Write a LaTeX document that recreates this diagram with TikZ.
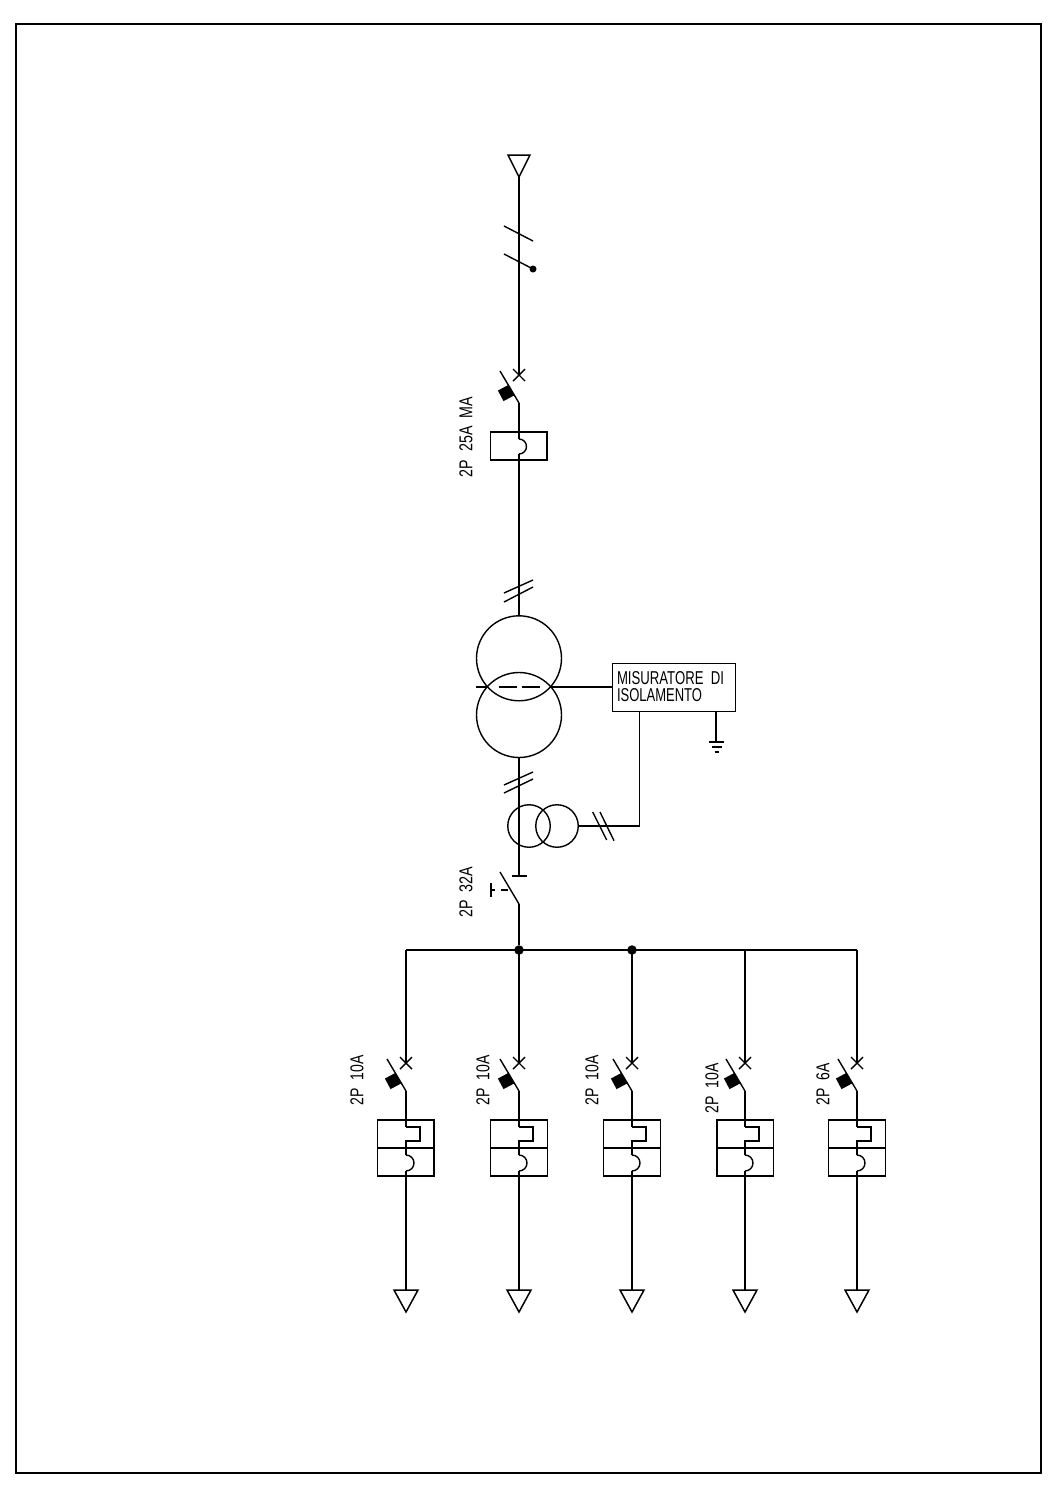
\documentclass[tikz,border=0pt]{standalone}
\usepackage{fontspec}
\usepackage{graphicx}
\setmainfont{Liberation Sans}
\newcommand{\cadtxt}[2]{\resizebox{#1pt}{13pt}{#2}}
\tikzset{
  thk/.style={line width=2.4pt,line cap=butt},
  thn/.style={line width=1.4pt,line cap=butt},
  lbl/.style={inner sep=0pt,outer sep=0pt,anchor=center},
  solidsq/.style={fill=black,draw=none,minimum size=12pt,inner sep=0pt,rotate=28},
  dotnode/.style={circle,fill=black,draw=none,minimum size=#1,inner sep=0pt},
}
\newcommand{\breaker}[1]{%
  \coordinate (#1x) at (0,0);
  \coordinate (#1bt) at (-19,-4);
  \coordinate (#1bb) at (0,28);
  \draw[thn] (-6,-6) -- (6,6);
  \draw[thn] (-6,6) -- (6,-6);
  \draw[thn] (#1bt) -- (#1bb);
  \node[solidsq] (#1sq) at (-13,18) {};
}
\begin{document}
\begin{tikzpicture}[x=1pt,y=-1pt]
\useasboundingbox (0,0) rectangle (1058,1497);
\fill[white] (0,0) rectangle (1058,1497);
\draw[thn] (16,24) rectangle (1041,1473);

% incoming line
\coordinate (tri) at (519,177);
\draw[line width=1.5pt,line join=miter] (508,155) -- (530,155) -- (tri) -- cycle;
\begin{scope}[shift={(519,375)}]\breaker{m}\end{scope}
\draw[thk] (tri) -- (mx);
\draw[thn] (504,226) -- (533,241);
\draw[thn] (504,254) -- (533,269);
\node[dotnode=7pt] (nd) at (533,269) {};

% residual current box
\draw[thn] (490.5,432) rectangle (547,460);
\draw[thk] (mbb) -- (519,439);
\draw[thn] (519,439) arc (-90:90:7.5);
\draw[thk] (519,454) -- (519,616);
\draw[thn] (504,593) -- (533,580);
\draw[thn] (504,602) -- (533,587);

% transformer
\node[circle,draw,line width=1.4pt,minimum size=85pt,inner sep=0pt] (t1) at (519,658.3) {};
\node[circle,draw,line width=1.4pt,minimum size=85pt,inner sep=0pt] (t2) at (519,715) {};
\node[draw,line width=1.4pt,minimum width=123pt,minimum height=48.5pt,inner sep=0pt,anchor=north west] (mi) at (611.5,662.5) {};
\node[lbl,anchor=west] (ml1) at (617,678) {\cadtxt{107}{MISURATORE\ \ DI}};
\node[lbl,anchor=west] (ml2) at (617,695) {\cadtxt{85}{ISOLAMENTO}};
\coordinate (mi1) at (611.5,686.7);
\draw[thk] (476,686.7) -- (488,686.7);
\draw[thk] (499,686.7) -- (517,686.7);
\draw[thk] (522,686.7) -- (540,686.7);
\draw[thk] (550,686.7) -- (mi1);
% earth
\coordinate (mi2) at (716,711);
\coordinate (ea) at (716,742);
\draw[thk] (mi2) -- (ea);
\draw[thk] (709,742) -- (724,742);
\draw[line width=1.1pt] (711.5,747) -- (721.5,747);
\draw[line width=1.1pt] (714.5,752) -- (718.5,752);

% current transformer
\node[circle,draw,line width=1.4pt,minimum size=42.5pt,inner sep=0pt] (c1) at (529,826) {};
\node[circle,draw,line width=1.4pt,minimum size=42.5pt,inner sep=0pt] (c2) at (557,826) {};
\coordinate (mi3) at (639.5,711);
\draw[thn] (mi3) |- (c2.east);
\draw[thn] (592.7,812) -- (606.7,840);
\draw[thn] (600,812) -- (614,840.7);
\draw[thk] (519,757) -- (519,876);
\draw[thn] (504,785) -- (533,772);
\draw[thn] (504,793) -- (533,779);

% main switch
\draw[thk] (512,876) -- (527,876);
\coordinate (swb) at (519,904);
\draw[thn] (500,872) -- (swb);
\draw[thn] (491,883) -- (491,897);
\draw[thn] (491,890) -- (495,890);
\draw[thn] (501,890) -- (508,890);

% bus
\node[dotnode=9.5pt] (j1) at (519,950) {};
\node[dotnode=9.5pt] (j2) at (632,950) {};
\draw[thk] (swb) -- (j1);
\draw[thn] (406,950) -- (857,950);

% branches
\foreach \n/\bx/\w in {a/406/2.4pt,b/519/2.4pt,c/632/1.4pt,d/745/1.4pt,e/857/2.4pt}{
  \begin{scope}[shift={(\bx,1063)}]\breaker{\n}\end{scope}
  \draw[line width=\w] (\bx,950) -- (\n x);
  \draw[thn] (\bx-28.5,1120) rectangle (\bx+28.5,1176);
  \draw[thn] (\bx-28.5,1148) -- (\bx+28.5,1148);
  \draw[line width=\w] (\n bb) -- (\bx,1127);
  \draw[thk,line join=miter] (\bx,1127) -- (\bx+14,1127) -- (\bx+14,1141) -- (\bx,1141) -- (\bx,1155);
  \draw[thn] (\bx,1155) arc (-90:90:8);
  \draw[line width=\w] (\bx,1171) -- (\bx,1290);
  \draw[line width=1.5pt] (\bx-12,1290) -- (\bx+12,1290) -- (\bx,1312) -- cycle;
}
\draw[thk] (434,1120) -- (434,1176);
\draw[thk] (717,1120) -- (717,1176);

% labels
\node[lbl,rotate=90] (l0) at (466,437) {\cadtxt{80}{2P\ \ 25A\ \ MA}};
\node[lbl,rotate=90] (l1) at (466,892) {\cadtxt{51}{2P\ \ 32A}};
\node[lbl,rotate=90] (la) at (357,1080) {\cadtxt{50}{2P\ \ 10A}};
\node[lbl,rotate=90] (lb) at (483,1080) {\cadtxt{50}{2P\ \ 10A}};
\node[lbl,rotate=90] (lc) at (592,1080) {\cadtxt{50}{2P\ \ 10A}};
\node[lbl,rotate=90] (ld) at (712,1088) {\cadtxt{50}{2P\ \ 10A}};
\node[lbl,rotate=90] (le) at (823,1084) {\cadtxt{42}{2P\ \ 6A}};
\end{tikzpicture}
\end{document}
